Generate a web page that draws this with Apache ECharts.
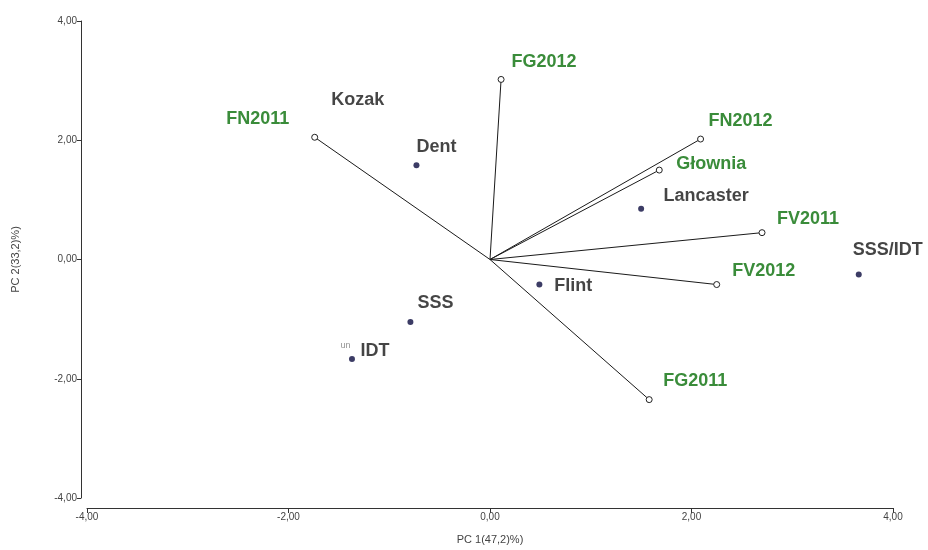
<!DOCTYPE html>
<html>
<head>
<meta charset="utf-8">
<script src="https://cdn.jsdelivr.net/npm/echarts@6/dist/echarts.min.js"></script>
<style>
  html, body { margin: 0; padding: 0; background: #fff; }
  #chart { width: 928px; height: 550px; }
</style>
</head>
<body>
<div id="chart"></div>
<script>
// trait vectors (green labels)
var vecNames = ['FN2011', 'FG2012', 'FN2012', 'Głownia', 'FV2011', 'FV2012', 'FG2011']
var vecX = [-1.74, 0.11, 2.09, 1.68, 2.70, 2.25, 1.58]
var vecY = [2.05, 3.02, 2.02, 1.50, 0.45, -0.42, -2.35]

// genotype points (dark labels)
var ptNames = ['Kozak', 'Dent', 'Lancaster', 'Flint', 'SSS', 'IDT', 'SSS/IDT']
var ptX = [-1.51, -0.73, 1.50, 0.49, -0.79, -1.37, 3.66]
var ptY = [2.38, 1.58, 0.85, -0.42, -1.05, -1.67, -0.25]

// label placement (pixels, label centre relative to mark)
var vecLabelOffset = {
  'FN2011': [-57, -18], 'FG2012': [43, -17], 'FN2012': [40, -18], 'Głownia': [52, -6],
  'FV2011': [46, -14], 'FV2012': [47, -14], 'FG2011': [46, -19]
}
var ptLabelOffset = {
  'Kozak': [20, -18], 'Dent': [20, -18], 'Lancaster': [65, -13], 'Flint': [34, 1],
  'SSS': [25, -19], 'IDT': [13, -8], 'SSS/IDT': [29, -24]
}
var hiddenDots = ['Kozak']

var green = '#3a8c3a'
var dark = '#161616'
var font = 'Liberation Sans, Arial, sans-serif'

function fmt(v) {
  return v.toFixed(2).replace('.', ',')
}

var chart = echarts.init(document.getElementById('chart'))

var series = vecNames.map(function (n, i) {
  return {
    type: 'line',
    name: n,
    silent: true,
    z: 2,
    symbol: 'circle',
    symbolSize: function (v, p) { return p.dataIndex === 0 ? 0 : 6 },
    showSymbol: true,
    itemStyle: { color: '#fff', borderColor: '#222', borderWidth: 1 },
    lineStyle: { color: '#1a1a1a', width: 1 },
    data: [
      [0, 0],
      {
        value: [vecX[i], vecY[i]],
        label: {
          show: true,
          position: 'inside',
          offset: vecLabelOffset[n],
          formatter: n,
          color: green,
          fontSize: 18,
          fontWeight: 'bold',
          fontFamily: font
        }
      }
    ]
  }
})

series.push({
  type: 'scatter',
  silent: true,
  z: 3,
  symbol: 'circle',
  symbolSize: 6,
  itemStyle: { color: '#0b0b3e' },
  data: ptNames.map(function (n, i) {
    var item = {
      value: [ptX[i], ptY[i]],
      label: {
        show: true,
        position: 'inside',
        offset: ptLabelOffset[n],
        formatter: n === 'IDT' ? '{s|un}  IDT' : n,
        color: dark,
        fontSize: 18,
        fontWeight: 'bold',
        fontFamily: font,
        rich: {
          s: { fontSize: 9, color: '#777', fontWeight: 'normal', fontFamily: font, padding: [0, 0, 12, 0] }
        }
      }
    }
    if (hiddenDots.indexOf(n) >= 0) {
      item.symbolSize = 0
    }
    return item
  })
})

chart.setOption({
  animation: false,
  backgroundColor: '#fff',
  grid: { left: 87, right: 35, top: 21, bottom: 49 },
  xAxis: {
    type: 'value',
    min: -4,
    max: 4,
    interval: 2,
    offset: 10,
    name: 'PC 1(47,2)%)',
    nameLocation: 'middle',
    nameGap: 26,
    nameTextStyle: { color: '#444', fontSize: 11, fontFamily: font },
    axisLine: { show: true, onZero: false, lineStyle: { color: '#333', width: 1 } },
    axisTick: { show: true, length: 5, lineStyle: { color: '#333' } },
    splitLine: { show: false },
    axisLabel: {
      color: '#444',
      fontSize: 10,
      margin: 4,
      fontFamily: font,
      formatter: function (v) { return fmt(v) }
    }
  },
  yAxis: {
    type: 'value',
    min: -4,
    max: 4,
    interval: 2,
    offset: 6,
    name: 'PC 2(33,2)%)',
    nameLocation: 'middle',
    nameGap: 60,
    nameTextStyle: { color: '#444', fontSize: 11, fontFamily: font },
    axisLine: { show: true, onZero: false, lineStyle: { color: '#333', width: 1 } },
    axisTick: { show: true, length: 4, lineStyle: { color: '#333' } },
    splitLine: { show: false },
    axisLabel: {
      color: '#444',
      fontSize: 10,
      margin: 4,
      fontFamily: font,
      formatter: function (v) { return fmt(v) }
    }
  },
  series: series
})
</script>
</body>
</html>
